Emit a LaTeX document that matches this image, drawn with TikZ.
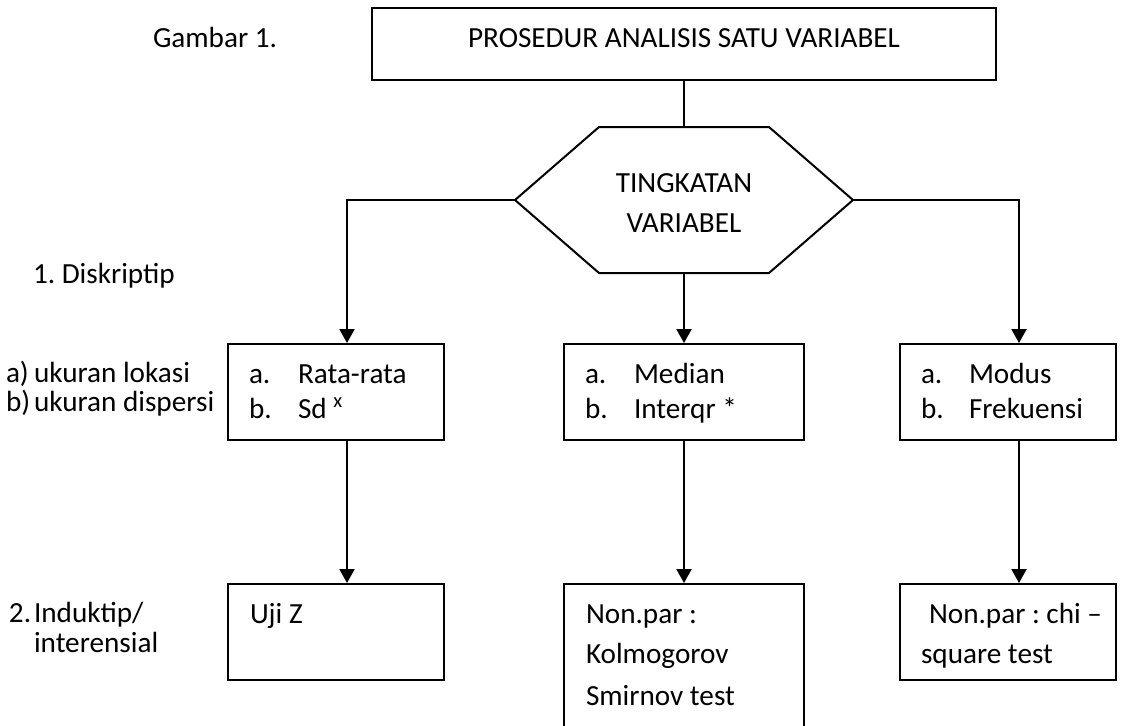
\documentclass[tikz,border=0pt]{standalone}
\usepackage{fontspec}
\setmainfont{Carlito}
\usetikzlibrary{arrows.meta,fit}
\frenchspacing
\begin{document}
\begin{tikzpicture}[x=0.5pt,y=-0.5pt,
  line width=1pt,
  boxstyle/.style={draw,line width=1pt,inner sep=0pt},
  txt/.style={anchor=base west,inner sep=0pt,font=\fontsize{14.6pt}{17pt}\selectfont},
  ctxt/.style={anchor=base,inner sep=0pt,font=\fontsize{14.6pt}{17pt}\selectfont},
  arr/.style={-{Triangle[length=7pt,width=7.5pt]}},
]
\useasboundingbox (0,0) rectangle (1126,725);
\clip (0,0) rectangle (1126,725);

% title box
\node[boxstyle,fit={(372,8)(996,80)}] (top) {};
\node[ctxt] (toptxt) at (684,47) {PROSEDUR ANALISIS SATU VARIABEL};
\node[txt] (gambar) at (152,47) {Gambar 1.};

% hexagon
\node[inner sep=0pt,fit={(516,128)(852,272)}] (hex) {};
\draw (hex.west) -- ([xshift=42pt]hex.north west) -- ([xshift=-42pt]hex.north east)
  -- (hex.east) -- ([xshift=-42pt]hex.south east) -- ([xshift=42pt]hex.south west) -- cycle;
\node[ctxt] (tk) at (684,192) {TINGKATAN};
\node[ctxt] (vr) at (684,232) {VARIABEL};

% row 1 boxes
\node[boxstyle,fit={(228,344)(444,440)}] (r1a) {};
\node[boxstyle,fit={(564,344)(804,440)}] (r1b) {};
\node[boxstyle,fit={(900,344)(1116,440)}] (r1c) {};

% row 2 boxes
\node[boxstyle,fit={(228,584)(444,680)}] (r2a) {};
\node[boxstyle,fit={(564,584)(804,745)}] (r2b) {};
\node[boxstyle,fit={(900,584)(1116,680)}] (r2c) {};

% connectors
\draw (top.south) -- (hex.north);
\draw[arr] (hex.west) -| ([xshift=60pt]r1a.north west);
\draw[arr] (hex.south) -- (r1b.north);
\draw[arr] (hex.east) -| ([xshift=60pt]r1c.north west);
\draw[arr] ([xshift=60pt]r1a.south west) -- ([xshift=60pt]r2a.north west);
\draw[arr] (r1b.south) -- (r2b.north);
\draw[arr] ([xshift=60pt]r1c.south west) -- ([xshift=60pt]r2c.north west);

% row 1 texts
\node[txt] (l1a) at (248,383) {a.};
\node[txt] (t1a) at (297,383) {Rata-rata};
\node[txt] (l1b) at (248,418) {b.};
\node[txt] (t1b) at (297,418) {Sd \textsuperscript{x}};
\node[txt] (l2a) at (584,383) {a.};
\node[txt] (t2a) at (633,383) {Median};
\node[txt] (l2b) at (584,418) {b.};
\node[txt] (t2b) at (633,418) {Interqr *};
\node[txt] (l3a) at (920,383) {a.};
\node[txt] (t3a) at (968,383) {Modus};
\node[txt] (l3b) at (920,418) {b.};
\node[txt] (t3b) at (968,418) {Frekuensi};

% row 2 texts
\node[txt] (uz) at (249,623) {Uji Z};
\node[txt] (np1) at (585,623) {Non.par :};
\node[txt] (np2) at (585,663) {Kolmogorov};
\node[txt] (np3) at (585,705) {Smirnov test};
\node[txt] (cs1) at (928,623) {Non.par : chi –};
\node[txt] (cs2) at (920,663) {square test};

% left labels
\node[txt] (desk) at (32,283) {1. Diskriptip};
\node[txt] (ua) at (5,382) {a)};
\node[txt] (uat) at (33,382) {ukuran lokasi};
\node[txt] (ub) at (5,411) {b)};
\node[txt] (ubt) at (33,411) {ukuran dispersi};
\node[txt] (ind) at (8,622) {2.};
\node[txt] (indt) at (33,622) {Induktip/};
\node[txt] (inter) at (33,652) {interensial};
\end{tikzpicture}
\end{document}
